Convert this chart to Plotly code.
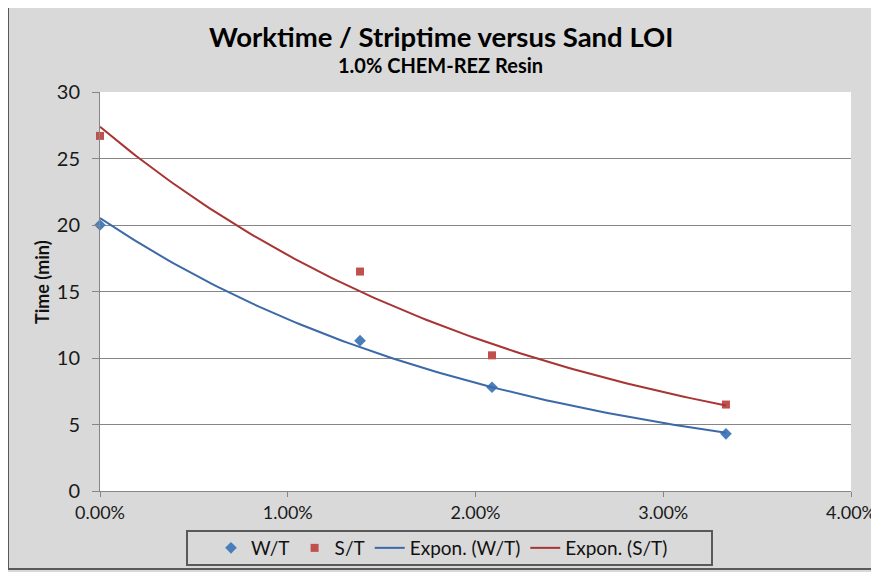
import numpy as np
import plotly.graph_objects as go

# Data (Sand LOI in %, time in minutes)
loi_pct = [0.0, 1.385, 2.088, 3.334]
worktime = [20.0, 11.3, 7.8, 4.3]
striptime = [26.7, 16.5, 10.2, 6.5]

x_ticks = [0, 1, 2, 3, 4]
x_tick_labels = ["0.00%", "1.00%", "2.00%", "3.00%", "4.00%"]
y_ticks = [0, 5, 10, 15, 20, 25, 30]

BLUE_M = "#4a7ebb"
RED_M = "#c0504d"
BLUE_L = "#3c6aa8"
RED_L = "#a83533"
FONT = "Lato"


def expon_fit(x, y):
    b, ln_a = np.polyfit(np.asarray(x), np.log(np.asarray(y)), 1)
    xs = np.linspace(min(x), max(x), 120)
    return xs, np.exp(ln_a) * np.exp(b * xs)


wx, wy = expon_fit(loi_pct, worktime)
sx, sy = expon_fit(loi_pct, striptime)

fig = go.Figure()
fig.add_trace(go.Scatter(x=loi_pct, y=worktime, mode="markers", name="W/T", cliponaxis=False,
                         marker=dict(symbol="diamond", size=9, color=BLUE_M)))
fig.add_trace(go.Scatter(x=loi_pct, y=striptime, mode="markers", name="S/T", cliponaxis=False,
                         marker=dict(symbol="square", size=8, color=RED_M)))
fig.add_trace(go.Scatter(x=wx, y=wy, mode="lines", name="Expon. (W/T)",
                         line=dict(color=BLUE_L, width=2)))
fig.add_trace(go.Scatter(x=sx, y=sy, mode="lines", name="Expon. (S/T)",
                         line=dict(color=RED_L, width=2)))

# page is offset by the 8px body margin; work in page pixels and convert
OFF = 8
W, H = 879 - OFF, 572 - OFF
L, R, T, B = 100 - OFF, 851 - OFF, 92 - OFF, 491 - OFF


def px(xp):
    return (xp - OFF - L) / (R - L)


def py(yp):
    return (B - (yp - OFF)) / (B - T)


fig.update_layout(
    width=W, height=H,
    margin=dict(l=L, r=W - R, t=T, b=H - B, pad=0, autoexpand=False),
    paper_bgcolor="#d9d9d9",
    plot_bgcolor="#ffffff",
    font=dict(family=FONT, color="#1a1a1a", size=18),
    showlegend=True,
    legend=dict(
        orientation="h", x=px(442), xanchor="center", y=py(548), yanchor="middle",
        bgcolor="rgba(0,0,0,0)", borderwidth=0,
        font=dict(family=FONT, size=19, color="#111111"),
        itemwidth=30, tracegroupgap=0,
    ),
    xaxis=dict(
        range=[0, 4], tickvals=x_ticks, ticktext=x_tick_labels,
        showgrid=False, zeroline=False, showline=True, linecolor="#868686", linewidth=1,
        ticks="outside", ticklen=5, tickcolor="#868686",
        tickfont=dict(family=FONT, size=18, color="#1a1a1a"),
    ),
    yaxis=dict(
        range=[0, 30], tickvals=y_ticks,
        showgrid=True, gridcolor="#868686", gridwidth=1, zeroline=False,
        showline=True, linecolor="#868686", linewidth=1,
        ticks="outside", ticklen=7, tickcolor="#868686", ticklabelstandoff=8,
        tickfont=dict(family=FONT, size=20, color="#1a1a1a"),
    ),
    shapes=[
        dict(type="rect", xref="paper", yref="paper",
             x0=px(8), x1=px(900), y0=py(569), y1=py(5),
             line=dict(color="#595959", width=2), fillcolor="rgba(0,0,0,0)", layer="below"),
        dict(type="rect", xref="paper", yref="paper",
             x0=px(187), x1=px(712), y0=py(565), y1=py(531),
             line=dict(color="#595959", width=2), fillcolor="rgba(0,0,0,0)", layer="above"),
    ],
    annotations=[
        dict(text="<b>Worktime / Striptime versus Sand LOI</b>", xref="paper", yref="paper",
             x=px(441), y=py(36), xanchor="center", yanchor="middle", showarrow=False,
             font=dict(family=FONT, size=27.5, color="#000000")),
        dict(text="<b>1.0% CHEM-REZ Resin</b>", xref="paper", yref="paper",
             x=px(440), y=py(65), xanchor="center", yanchor="middle", showarrow=False,
             font=dict(family=FONT, size=20, color="#000000")),
        dict(text="<b>Time (min)</b>", xref="paper", yref="paper", textangle=-90,
             x=px(42), y=py(282), xanchor="center", yanchor="middle", showarrow=False,
             font=dict(family=FONT, size=18, color="#111111")),
    ],
)

fig.write_html("out.html")
